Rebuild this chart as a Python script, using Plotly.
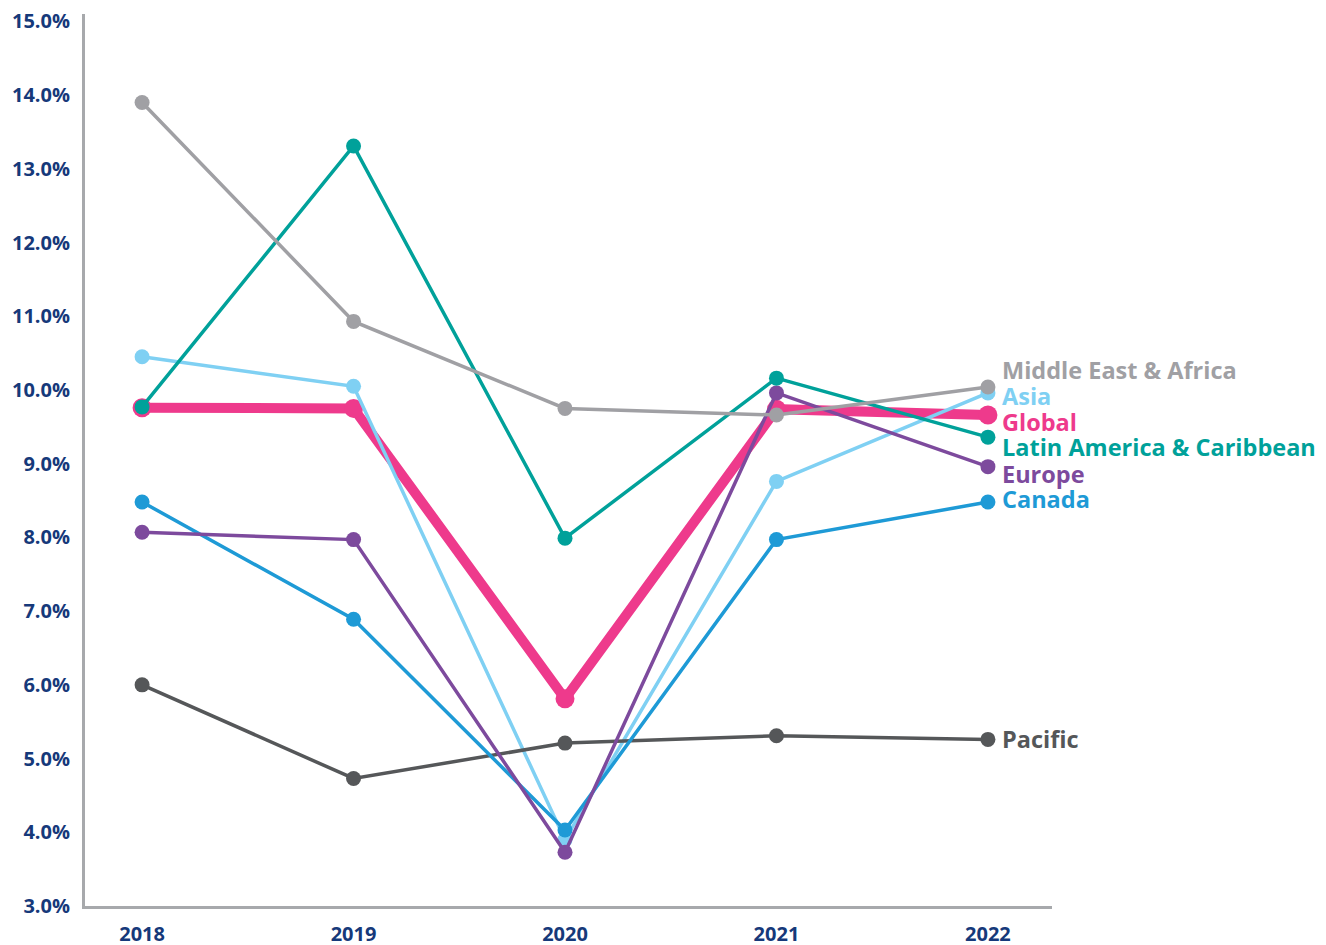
import plotly.graph_objects as go

years = [2018, 2019, 2020, 2021, 2022]

middle_east_africa = [13.90, 10.93, 9.75, 9.66, 10.04]
latin_america = [9.77, 13.31, 7.99, 10.16, 9.36]
asia = [10.45, 10.05, 3.90, 8.76, 9.96]
global_ = [9.76, 9.75, 5.81, 9.74, 9.66]
europe = [8.07, 7.97, 3.73, 9.96, 8.96]
canada = [8.48, 6.89, 4.03, 7.97, 8.48]
pacific = [6.00, 4.73, 5.21, 5.31, 5.26]

y_ticks = [3, 4, 5, 6, 7, 8, 9, 10, 11, 12, 13, 14, 15]
y_tick_labels = [f"{v:.1f}%" for v in y_ticks]

FONT = "Open Sans"
NAVY = "#16397a"

# name, values, color, line width, marker size
series = [
    ("Global", global_, "#ee3a8c", 10, 19),
    ("Asia", asia, "#7fd0f3", 3.5, 15),
    ("Pacific", pacific, "#555759", 3.5, 15),
    ("Canada", canada, "#1e9ad6", 3.5, 15),
    ("Europe", europe, "#7d4a9d", 3.5, 15),
    ("Latin America & Caribbean", latin_america, "#00a19a", 3.5, 15),
    ("Middle East & Africa", middle_east_africa, "#a0a0a4", 3.5, 15),
]

# label vertical offsets (pixels) so labels don't overlap
label_shift = {
    "Middle East & Africa": 17,
    "Asia": -3,
    "Global": -7,
    "Latin America & Caribbean": -10,
    "Europe": -7,
    "Canada": 3,
    "Pacific": 0,
}

fig = go.Figure()
for name, vals, color, lw, ms in series:
    fig.add_trace(go.Scatter(
        x=years, y=vals, mode="lines+markers", name=name,
        line=dict(color=color, width=lw),
        marker=dict(color=color, size=ms),
        showlegend=False, hoverinfo="skip",
    ))
    fig.add_annotation(
        x=years[-1], y=vals[-1], text=f"<b>{name}</b>",
        xanchor="left", yanchor="middle", showarrow=False,
        xshift=12, yshift=label_shift[name],
        font=dict(family=FONT, size=23.5, color=color),
    )

# the page body has an 8px margin, so the figure is sized to fit the window
fig.update_layout(
    width=1318, height=937,
    margin=dict(l=77, r=274, t=6, b=39),
    paper_bgcolor="white", plot_bgcolor="white",
    font=dict(family=FONT, color=NAVY),
)
fig.update_xaxes(
    range=[2017.73, 2022.303], tickmode="array", tickvals=years,
    ticktext=[f"<b>{y}</b>" for y in years],
    showgrid=False, zeroline=False, showline=True, linecolor="#a7a9ac", linewidth=3,
    ticks="outside", ticklen=8, tickcolor="rgba(0,0,0,0)",
    tickfont=dict(family=FONT, size=20, color=NAVY), automargin=False,
    ticklabeloverflow="allow",
)
fig.update_yaxes(
    range=[3, 15.10], tickmode="array", tickvals=y_ticks,
    ticktext=[f"<b>{t}</b>" for t in y_tick_labels],
    showgrid=False, zeroline=False, showline=True, linecolor="#a7a9ac", linewidth=3,
    ticks="outside", ticklen=8, tickcolor="rgba(0,0,0,0)",
    tickfont=dict(family=FONT, size=20, color=NAVY), automargin=False,
    ticklabeloverflow="allow",
)

fig.write_html("out.html")
